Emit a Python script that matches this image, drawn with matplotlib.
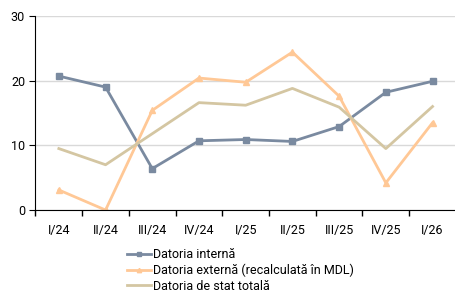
import matplotlib.pyplot as plt
import numpy as np

plt.rcParams['font.family'] = ['Roboto', 'DejaVu Sans']

quarters = ['I/24', 'II/24', 'III/24', 'IV/24', 'I/25', 'II/25', 'III/25', 'IV/25', 'I/26']
interna = [20.7, 19.0, 6.4, 10.7, 10.9, 10.6, 12.9, 18.2, 19.9]
externa = [3.1, 0.0, 15.4, 20.4, 19.75, 24.4, 17.6, 4.2, 13.5]
totala = [9.5, 7.0, 11.8, 16.6, 16.2, 18.8, 15.9, 9.5, 16.0]

fig = plt.figure(figsize=(4.55, 2.95), dpi=100)
ax = fig.add_axes([0.078, 0.288, 0.924, 0.658])

x = np.arange(len(quarters))
ax.plot(x, interna, color='#7a8aa0', lw=2, marker='s', ms=4.5, label='Datoria internă')
ax.plot(x, externa, color='#ffc896', lw=2, marker='^', ms=4.5, label='Datoria externă (recalculată în MDL)')
ax.plot(x, totala, color='#d4c6a2', lw=2, label='Datoria de stat totală')

ax.set_ylim(0, 30)
ax.set_yticks([0, 10, 20, 30])
ax.set_xlim(-0.5, len(quarters) - 0.5)
ax.set_xticks(x)
ax.set_xticklabels(quarters)
ax.set_xticks(np.arange(-0.5, len(quarters), 1), minor=True)
ax.tick_params(axis='x', which='major', length=0, pad=10, labelsize=9)
ax.tick_params(axis='x', which='minor', length=4, width=1)
ax.tick_params(axis='y', length=4, labelsize=9)
ax.yaxis.grid(True, color='#d9d9d9', lw=1)
ax.set_axisbelow(True)
for s in ['top', 'right']:
    ax.spines[s].set_visible(False)

handles, labels = ax.get_legend_handles_labels()
leg = fig.legend(handles, labels, loc='upper left', bbox_to_anchor=(0.28, 0.158),
                 frameon=False, fontsize=9, handlelength=1.9, handletextpad=0.15,
                 labelspacing=0.2, borderaxespad=0, borderpad=0, markerscale=0.7)

fig.savefig('out.png', dpi=100)
